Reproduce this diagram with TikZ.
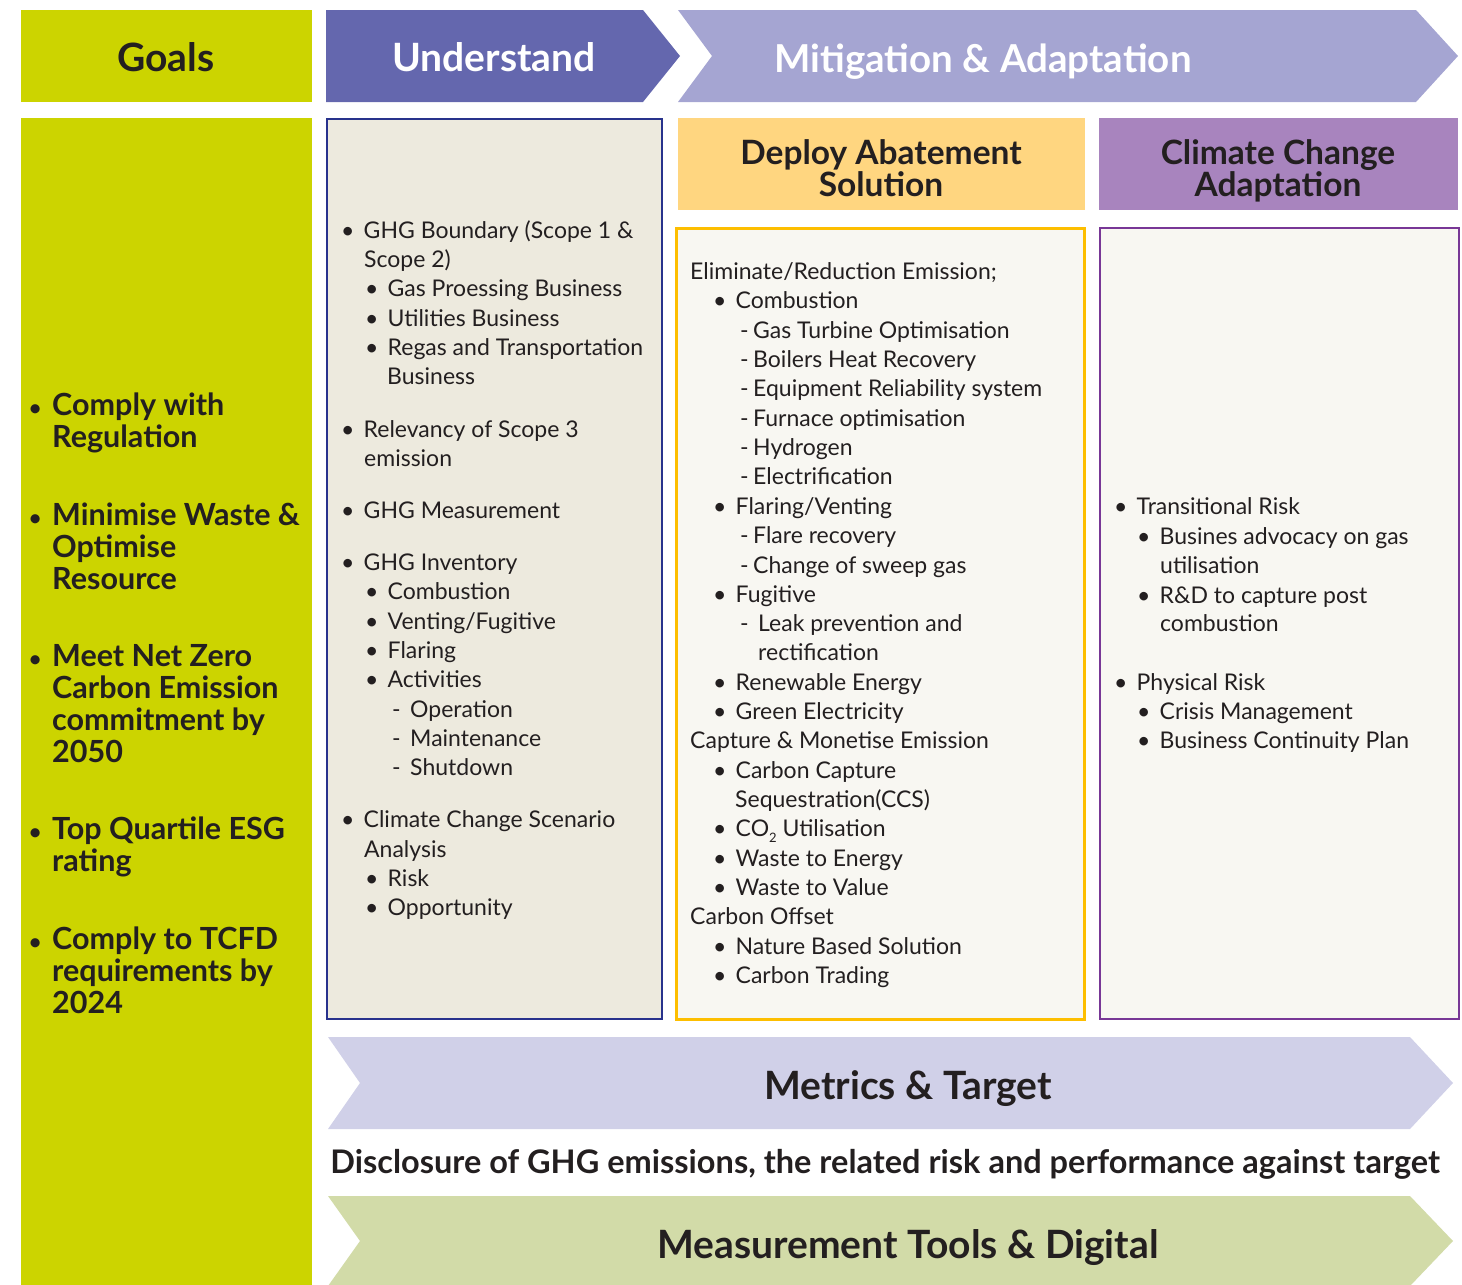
\documentclass[tikz,border=0pt]{standalone}
\usepackage{fontspec}
\setmainfont{Lato}
\usetikzlibrary{positioning}
\definecolor{goalcol}{RGB}{204,212,0}
\definecolor{undcol}{RGB}{100,103,174}
\definecolor{mitcol}{RGB}{165,165,210}
\definecolor{undfill}{RGB}{237,234,222}
\definecolor{undline}{RGB}{40,50,140}
\definecolor{depcol}{RGB}{255,214,128}
\definecolor{depline}{RGB}{253,190,0}
\definecolor{adpcol}{RGB}{168,132,190}
\definecolor{adpline}{RGB}{120,55,150}
\definecolor{paper}{RGB}{248,247,242}
\definecolor{metcol}{RGB}{208,208,232}
\definecolor{meacol}{RGB}{210,219,168}
\definecolor{ink}{RGB}{35,31,32}
\newcommand{\bodyfont}{\fontsize{23}{29}\selectfont}
\newcommand{\bul}{\hspace*{-4pt}\makebox[22.5pt][l]{\textbullet}}
\newcommand{\gbul}{\hspace*{-4pt}\makebox[23pt][l]{\fontsize{21}{21}\selectfont\textbullet}}
\newcommand{\dsh}{\makebox[13pt][l]{-}}
\newcommand{\dshw}{\makebox[18pt][l]{-}}
\newcommand{\subtwo}{\raisebox{-6pt}{\fontsize{13}{13}\selectfont 2}}

\begin{document}
\begin{tikzpicture}[x=1pt,y=-1pt,
    headtext/.style={font=\fontsize{39}{44}\selectfont\bfseries,inner sep=0pt},
    subhead/.style={font=\fontsize{33.5}{30}\selectfont\bfseries,text=ink,align=center,inner sep=0pt},
    bandtext/.style={font=\fontsize{39}{44}\selectfont\bfseries,text=ink,inner sep=0pt},
    line/.style={anchor=west,inner sep=0pt,yshift=-5pt,text height=.75em,text depth=.25em,font=\bodyfont,text=ink},
    goalline/.style={line,yshift=-3pt,font=\fontsize{30.5}{32}\selectfont\bfseries}]
  \useasboundingbox (0,0) rectangle (1462,1285);

  % top row
  \fill[goalcol] (21,10) rectangle (312,102);
  \fill[undcol] (326,10) -- (643,10) -- (680,56) -- (643,102) -- (326,102) -- cycle;
  \fill[mitcol] (678,10) -- (1416,10) -- (1458,56) -- (1416,102) -- (678,102) -- (712,56) -- cycle;
  \node[headtext,text=ink] (goals) at (166,57) {Goals};
  \node[headtext,text=white] (understand) at (494,57) {Understand};
  \node[headtext,font=\fontsize{38.5}{44}\selectfont\bfseries,text=white] (mitigation) at (983,62) {Mitigation \& Adaptation};

  % columns
  \fill[goalcol] (21,118) rectangle (312,1285);
  \filldraw[fill=undfill,draw=undline,line width=2pt] (327,119) rectangle (662,1019);
  \fill[depcol] (678,118) rectangle (1085,210);
  \fill[adpcol] (1099,118) rectangle (1458,210);
  \filldraw[fill=paper,draw=depline,line width=3pt] (676,228) rectangle (1084,1019);
  \filldraw[fill=paper,draw=adpline,line width=2.5pt] (1100,228) rectangle (1459,1019);
  \node[subhead] (deployhd) at (881,171) {Deploy Abatement\\Solution\vphantom{p}};
  \node[subhead] (adapthd) at (1278,171) {Climate Change\\Adaptation};

  % goals
  \foreach \x/\y/\t [count=\i] in {33/405/{\gbul Comply with}, 52/437/{Regulation},
      33/515/{\gbul Minimise Waste \&}, 52/547/{Optimise}, 52/579/{Resource},
      33/656/{\gbul Meet Net Zero}, 52/688/{Carbon Emission}, 52/720/{commitment by}, 52/752/{2050},
      33/829/{\gbul Top Quartile ESG}, 52/861/{rating},
      33/939/{\gbul Comply to TCFD}, 52/971/{requirements by}, 52/1003/{2024}}
    \node[goalline] (g\i) at (\x,\y) {\t};

  % understand
  \foreach \x/\y/\t [count=\i] in {345/231/{\bul GHG Boundary (Scope 1 \&}, 364/260/{Scope 2)},
      369/289/{\bul Gas Proessing Business}, 369/319/{\bul Utilities Business},
      369/348/{\bul Regas and Transportation}, 387/377/{Business},
      345/430/{\bul Relevancy of Scope 3}, 364/459/{emission},
      345/511/{\bul GHG Measurement},
      345/563/{\bul GHG Inventory}, 369/592/{\bul Combustion}, 369/622/{\bul Venting/Fugitive},
      369/651/{\bul Flaring}, 369/680/{\bul Activities},
      392/710/{\dshw Operation}, 392/739/{\dshw Maintenance}, 392/768/{\dshw Shutdown},
      345/820/{\bul Climate Change Scenario}, 364/850/{Analysis},
      369/879/{\bul Risk}, 369/908/{\bul Opportunity}}
    \node[line] (u\i) at (\x,\y) {\t};

  % deploy abatement
  \foreach \x/\y/\t [count=\i] in {690/272/{Eliminate/Reduction Emission;},
      717/301/{\bul Combustion},
      740/331/{\dsh Gas Turbine Optimisation}, 740/360/{\dsh Boilers Heat Recovery},
      740/389/{\dsh Equipment Reliability system}, 740/419/{\dsh Furnace optimisation},
      740/448/{\dsh Hydrogen}, 740/477/{\dsh Electrification},
      717/507/{\bul Flaring/Venting}, 740/536/{\dsh Flare recovery}, 740/566/{\dsh Change of sweep gas},
      717/595/{\bul Fugitive}, 740/624/{\dshw Leak prevention and}, 758/653/{rectification},
      717/683/{\bul Renewable Energy}, 717/712/{\bul Green Electricity},
      690/741/{Capture \& Monetise Emission},
      717/771/{\bul Carbon Capture}, 735/800/{Sequestration(CCS)},
      717/829/{\bul CO\subtwo{} Utilisation}, 717/859/{\bul Waste to Energy}, 717/888/{\bul Waste to Value},
      690/917/{Carbon Offset},
      717/947/{\bul Nature Based Solution}, 717/976/{\bul Carbon Trading}}
    \node[line] (d\i) at (\x,\y) {\t};

  % adaptation
  \foreach \x/\y/\t [count=\i] in {1118/507/{\bul Transitional Risk},
      1141/537/{\bul Busines advocacy on gas}, 1160/566/{utilisation},
      1141/596/{\bul R\&D to capture post}, 1160/624/{combustion},
      1118/683/{\bul Physical Risk},
      1141/712/{\bul Crisis Management}, 1141/741/{\bul Business Continuity Plan}}
    \node[line] (a\i) at (\x,\y) {\t};

  % bottom bands
  \fill[metcol] (328,1037) -- (1410,1037) -- (1453,1083) -- (1410,1129) -- (328,1129) -- (360,1083) -- cycle;
  \fill[meacol] (328,1196) -- (1410,1196) -- (1453,1241) -- (1410,1286) -- (328,1286) -- (360,1241) -- cycle;
  \node[bandtext] (metrics) at (908,1089) {Metrics \& Target};
  \node[bandtext,font=\fontsize{32.5}{36}\selectfont\bfseries] (disclosure) at (885,1164)
    {Disclosure of GHG emissions, the related risk and performance against target};
  \node[bandtext] (measure) at (908,1248) {Measurement Tools \& Digital};
\end{tikzpicture}
\end{document}
